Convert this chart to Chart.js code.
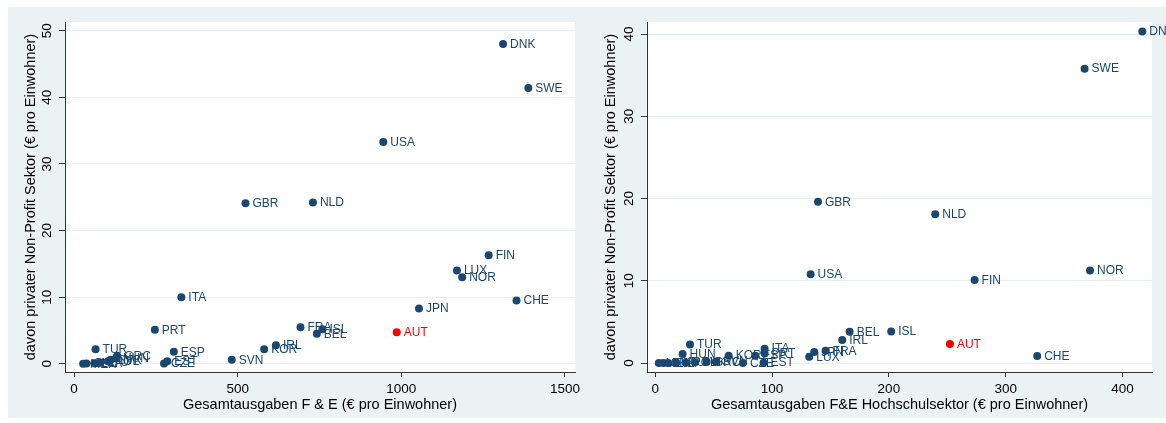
<!DOCTYPE html>
<html>
<head>
<meta charset="utf-8">
<script src="https://cdn.jsdelivr.net/npm/chart.js@4.4.1/dist/chart.umd.min.js"></script>
<style>
  html, body { margin: 0; padding: 0; background: #ffffff; }
  body { width: 1166px; height: 423px; position: relative; overflow: hidden; }
  #graphRegion { position: absolute; left: 8px; top: 7px; width: 1158px; height: 411px; background: #eaf2f3; }
  .panel { position: absolute; top: 0; height: 423px; }
  #leftPanel { left: 0; width: 590px; }
  #rightPanel { left: 590px; width: 576px; }
</style>
</head>
<body>
<div id="graphRegion"></div>
<div class="panel" id="leftPanel"><canvas id="chartTotal"></canvas></div>
<div class="panel" id="rightPanel"><canvas id="chartHigherEd"></canvas></div>
<script>
// Country codes (OECD)
const countries = [
  'AUT','BEL','CHE','CHL','CZE','DNK','ESP','EST','FIN','FRA',
  'GBR','GRC','HUN','IRL','ISL','ITA','JPN','KOR','LTU','LUX',
  'LVA','MEX','NLD','NOR','POL','PRT','SVK','SVN','SWE','TUR','USA'
];
// Gross R&D expenditure, € per inhabitant
const gerdPerCapita = [
  986, 742, 1352, 38, 275, 1311, 305, 285, 1267, 692,
  524, 132, 128, 617, 759, 328, 1054, 581, 80, 1170,
  62, 28, 730, 1186, 104, 247, 112, 482, 1388, 66, 945
];
// thereof funded by the private non-profit sector, € per inhabitant
const pnpGerdPerCapita = [
  4.75, 4.5, 9.5, 0.05, 0.05, 48.0, 1.8, 0.4, 16.3, 5.5,
  24.1, 1.2, 0.8, 2.8, 5.2, 10.0, 8.3, 2.2, 0.2, 14.0,
  0.1, 0.0, 24.2, 13.0, 0.4, 5.1, 0.6, 0.6, 41.4, 2.2, 33.3
];
// Higher education R&D expenditure, € per inhabitant
const herdPerCapita = [
  252.3, 166.4, 327, 7, 75, 417, 85.6, 92.7, 273.4, 145.8,
  139.3, 44, 23.4, 160.1, 202, 93.6, 136.1, 62.8, 18, 131.8,
  11, 3, 239.7, 372.2, 26, 93.6, 34, 52, 367.6, 29.7, 133
];
// thereof funded by the private non-profit sector, € per inhabitant
const pnpHerdPerCapita = [
  2.3, 3.8, 0.85, 0.0, 0.0, 40.3, 0.9, 0.05, 10.1, 1.5,
  19.6, 0.15, 1.1, 2.8, 3.85, 1.75, 1.35, 0.9, 0.05, 0.75,
  0.0, 0.0, 18.1, 11.25, 0.05, 1.15, 0.1, 0.2, 35.8, 2.25, 10.8
];

const totalXTicks = [0, 500, 1000, 1500];
const totalYTicks = [0, 10, 20, 30, 40, 50];
const higherEdXTicks = [0, 100, 200, 300, 400];
const higherEdYTicks = [0, 10, 20, 30, 40];

const totalXTitle = 'Gesamtausgaben F & E (€ pro Einwohner)';
const higherEdXTitle = 'Gesamtausgaben F&E Hochschulsektor (€ pro Einwohner)';
const yTitle = 'davon privater Non-Profit Sektor (€ pro Einwohner)';

const highlight = 'AUT';
const NAVY = '#1a476f';
const RED = '#ff0000';
const FONT = '"Liberation Sans", Arial, Helvetica, sans-serif';

// white plot region
const plotBackground = {
  id: 'plotBackground',
  beforeDraw(chart) {
    const { ctx, chartArea: a } = chart;
    ctx.save();
    ctx.fillStyle = '#ffffff';
    ctx.fillRect(a.left, a.top, a.right - a.left, a.bottom - a.top);
    ctx.restore();
  }
};

// vertical y tick labels
const verticalYLabels = {
  id: 'verticalYLabels',
  afterDraw(chart, args, opts) {
    const s = chart.scales.y;
    const ctx = chart.ctx;
    ctx.save();
    ctx.font = '13.5px ' + FONT;
    ctx.fillStyle = '#000000';
    ctx.textAlign = 'center';
    ctx.textBaseline = 'middle';
    for (const t of s.ticks) {
      const py = s.getPixelForValue(t.value);
      ctx.save();
      ctx.translate(chart.chartArea.left - opts.offset, py);
      ctx.rotate(-Math.PI / 2);
      ctx.fillText(String(t.value), 0, 0);
      ctx.restore();
    }
    ctx.restore();
  }
};

// country code next to each marker
const markerLabels = {
  id: 'markerLabels',
  afterDatasetsDraw(chart) {
    const ctx = chart.ctx;
    const meta = chart.getDatasetMeta(0);
    ctx.save();
    ctx.font = '12px ' + FONT;
    ctx.textAlign = 'left';
    ctx.textBaseline = 'middle';
    meta.data.forEach((el, i) => {
      ctx.fillStyle = countries[i] === highlight ? RED : NAVY;
      ctx.fillText(countries[i], el.x + 7, el.y + 0.5);
    });
    ctx.restore();
  }
};

function makeChart(canvasId, xs, ys, xTicks, yTicks, xTitle, g) {
  const points = countries.map((c, i) => ({ x: xs[i], y: ys[i] }));
  const colorOf = ctx => countries[ctx.dataIndex] === highlight ? RED : NAVY;
  return new Chart(document.getElementById(canvasId), {
    type: 'scatter',
    data: {
      datasets: [{
        data: points,
        pointRadius: 4,
        pointHoverRadius: 4,
        pointBorderWidth: 0,
        pointBackgroundColor: colorOf,
        pointBorderColor: colorOf,
        clip: false
      }]
    },
    options: {
      responsive: true,
      maintainAspectRatio: false,
      animation: false,
      events: [],
      layout: { padding: { left: 0, top: 22, right: g.padRight, bottom: 0 } },
      plugins: {
        legend: { display: false },
        tooltip: { enabled: false },
        verticalYLabels: { offset: g.yLabelOffset }
      },
      scales: {
        x: {
          type: 'linear',
          min: g.xMin, max: g.xMax,
          afterBuildTicks: s => { s.ticks = xTicks.map(v => ({ value: v })); },
          afterFit: s => { s.height = g.xAxisHeight; },
          grid: { drawOnChartArea: false, drawTicks: true, tickLength: 5, tickColor: '#333333', lineWidth: 1 },
          border: { display: true, color: '#333333', width: 1 },
          ticks: {
            color: '#000000', font: { family: FONT, size: 13.5 }, padding: 4,
            autoSkip: false, maxRotation: 0, minRotation: 0,
            callback: v => String(v)
          },
          title: { display: true, text: xTitle, color: '#000000', font: { family: FONT, size: 14.5 }, padding: { top: 0, bottom: 9 } }
        },
        y: {
          type: 'linear',
          min: g.yMin, max: g.yMax,
          afterBuildTicks: s => { s.ticks = yTicks.map(v => ({ value: v })); },
          afterFit: s => { s.width = g.yAxisWidth; },
          grid: { color: '#e4edf0', lineWidth: 1, drawTicks: true, tickLength: 6, tickColor: '#333333' },
          border: { display: true, color: '#333333', width: 1 },
          ticks: { display: false },
          title: { display: true, text: yTitle, color: '#000000', font: { family: FONT, size: 14.5 }, padding: { top: g.yTitlePad, bottom: 0 } }
        }
      }
    },
    plugins: [plotBackground, verticalYLabels, markerLabels]
  });
}

makeChart('chartTotal', gerdPerCapita, pnpGerdPerCapita, totalXTicks, totalYTicks, totalXTitle, {
  xMin: -27.5, xMax: 1530.7, yMin: -1.23, yMax: 51.3,
  padRight: 15, yAxisWidth: 65, xAxisHeight: 51, yLabelOffset: 18, yTitlePad: 22
});

makeChart('chartHigherEd', herdPerCapita, pnpHerdPerCapita, higherEdXTicks, higherEdYTicks, higherEdXTitle, {
  xMin: -7.1, xMax: 425.3, yMin: -1.09, yMax: 41.47,
  padRight: 14, yAxisWidth: 57, xAxisHeight: 51, yLabelOffset: 18, yTitlePad: 12
});
</script>
</body>
</html>
